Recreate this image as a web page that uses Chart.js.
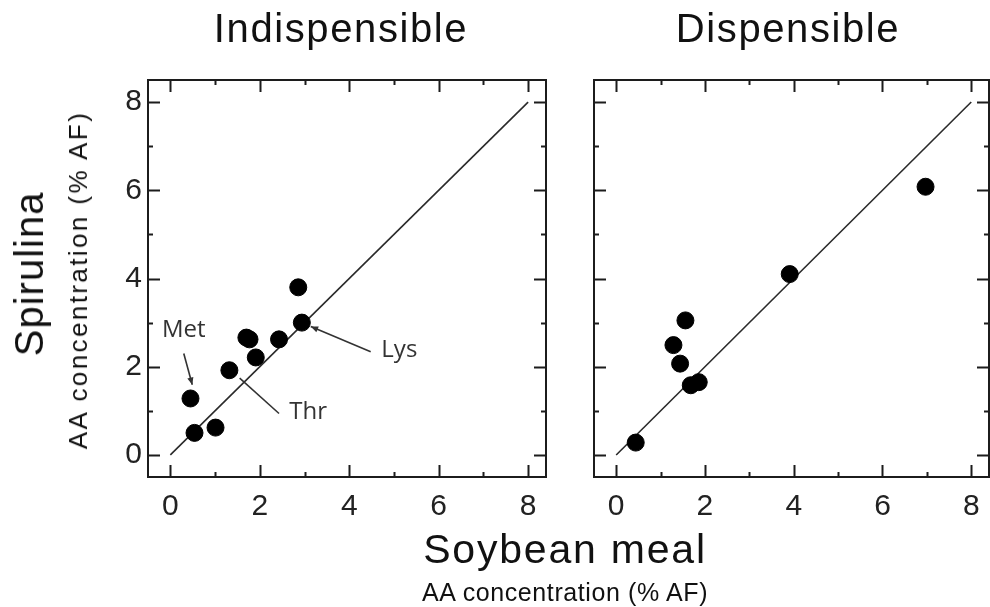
<!DOCTYPE html>
<html>
<head>
<meta charset="utf-8">
<title>Spirulina vs soybean meal amino acids</title>
<script src="https://cdn.jsdelivr.net/npm/chart.js@4.4.1/dist/chart.umd.min.js"></script>
<style>
  body { margin: 0; background: #fff; }
  #wrap { position: relative; width: 990px; height: 607px; overflow: hidden;
          font-family: "Liberation Sans", Arial, sans-serif; color: #111; }
  canvas { position: absolute; top: 0; }
  .lbl { position: absolute; white-space: nowrap; line-height: 1; }
  .h { transform: translate(-50%, -50%); }
  .v { transform: translate(-50%, -50%) rotate(-90deg); }
</style>
</head>
<body>
<div id="wrap">
  <canvas id="indisp" width="560" height="607" style="left:0;width:560px;height:607px"></canvas>
  <canvas id="disp" width="450" height="607" style="left:560px;width:450px;height:607px"></canvas>

  <div class="lbl h" style="left:341px;top:28px;font-size:40px;letter-spacing:1.6px">Indispensible</div>
  <div class="lbl h" style="left:788px;top:28px;font-size:40px;letter-spacing:1.6px">Dispensible</div>
  <div class="lbl v" style="left:29px;top:274px;font-size:40px;letter-spacing:1px">Spirulina</div>
  <div class="lbl v" style="left:78px;top:280px;font-size:26px;letter-spacing:2.4px">AA concentration (% AF)</div>
  <div class="lbl h" style="left:565px;top:549px;font-size:41px;letter-spacing:1.8px">Soybean meal</div>
  <div class="lbl h" style="left:565px;top:592px;font-size:25px;letter-spacing:0.6px">AA concentration (% AF)</div>
</div>
<script>
// axis ticks (labels every 2, marks every 1)
const xTicks = [0, 2, 4, 6, 8];
const yTicks = [0, 2, 4, 6, 8];
const tickMarks = [0, 1, 2, 3, 4, 5, 6, 7, 8];
const unityLine = [0, 8];

// indispensable amino acids, % as fed
const indispSoy = [0.45, 0.54, 1.01, 1.32, 1.70, 1.77, 1.91, 2.43, 2.86, 2.94];
const indispSpir = [1.28, 0.50, 0.62, 1.92, 2.66, 2.62, 2.21, 2.62, 3.80, 3.00];

// dispensable amino acids, % as fed
const dispSoy = [0.44, 1.29, 1.44, 1.56, 1.68, 1.86, 3.91, 6.97];
const dispSpir = [0.28, 2.49, 2.07, 3.05, 1.58, 1.65, 4.10, 6.08];

// callouts on the indispensable panel
const noteText = ['Met', 'Thr', 'Lys'];
const noteAt = [[0.30, 2.83], [3.08, 0.96], [5.12, 2.38]];
const noteFrom = [[0.30, 2.30], [2.43, 0.94], [4.48, 2.34]];
const noteTo = [[0.49, 1.59], [1.55, 1.74], [3.14, 2.91]];
const noteHead = [true, false, true];

const ink = '#1c1c1c';

// box around the plot area with inward tick marks on all four sides
const frameTicks = {
  id: 'frameTicks',
  afterDatasetsDraw(chart) {
    const { ctx, chartArea: a, scales } = chart;
    ctx.save();
    ctx.strokeStyle = ink;
    ctx.lineWidth = 2;
    ctx.strokeRect(a.left, a.top, a.right - a.left, a.bottom - a.top);
    ctx.beginPath();
    tickMarks.forEach(v => {
      const len = v % 2 === 0 ? 12 : 5;
      const px = Math.round(scales.x.getPixelForValue(v)) + 0.5;
      const py = Math.round(scales.y.getPixelForValue(v)) + 0.5;
      ctx.moveTo(px, a.top); ctx.lineTo(px, a.top + len);
      ctx.moveTo(px, a.bottom); ctx.lineTo(px, a.bottom - len);
      ctx.moveTo(a.left, py); ctx.lineTo(a.left + len, py);
      ctx.moveTo(a.right, py); ctx.lineTo(a.right - len, py);
    });
    ctx.stroke();
    ctx.restore();
  }
};

const callouts = {
  id: 'callouts',
  afterDatasetsDraw(chart) {
    const { ctx, scales: { x, y } } = chart;
    ctx.save();
    ctx.strokeStyle = '#333';
    ctx.fillStyle = '#333';
    ctx.lineWidth = 1.6;
    noteText.forEach((t, i) => {
      const x0 = x.getPixelForValue(noteFrom[i][0]), y0 = y.getPixelForValue(noteFrom[i][1]);
      const x1 = x.getPixelForValue(noteTo[i][0]), y1 = y.getPixelForValue(noteTo[i][1]);
      ctx.beginPath();
      ctx.moveTo(x0, y0);
      ctx.lineTo(x1, y1);
      ctx.stroke();
      if (noteHead[i]) {
        const ang = Math.atan2(y1 - y0, x1 - x0);
        ctx.beginPath();
        ctx.moveTo(x1, y1);
        ctx.lineTo(x1 - 8 * Math.cos(ang - 0.4), y1 - 8 * Math.sin(ang - 0.4));
        ctx.lineTo(x1 - 8 * Math.cos(ang + 0.4), y1 - 8 * Math.sin(ang + 0.4));
        ctx.closePath();
        ctx.fill();
      }
      ctx.font = '24px "Open Sans"';
      ctx.textAlign = 'center';
      ctx.textBaseline = 'middle';
      ctx.fillText(t, x.getPixelForValue(noteAt[i][0]), y.getPixelForValue(noteAt[i][1]));
    });
    ctx.restore();
  }
};

const tickFont = { family: '"Liberation Sans", Arial, sans-serif', size: 30 };

function makePanel(id, soy, spir, yWidth, padRight, showY, extra) {
  const points = soy.map((v, i) => ({ x: v, y: spir[i] }));
  return new Chart(document.getElementById(id), {
    type: 'scatter',
    data: {
      datasets: [
        { data: points, pointRadius: 8.5, pointHoverRadius: 8.5,
          backgroundColor: '#000', borderColor: '#000', borderWidth: 1, order: 1 },
        { type: 'line', data: unityLine.map(v => ({ x: v, y: v })),
          borderColor: '#2a2a2a', borderWidth: 1.6, pointRadius: 0, order: 2 }
      ]
    },
    options: {
      responsive: false,
      animation: false,
      layout: { padding: { left: 0, right: padRight, top: 80, bottom: 0 } },
      plugins: { legend: { display: false }, tooltip: { enabled: false } },
      scales: {
        x: {
          type: 'linear', min: -0.5, max: 8.4,
          afterBuildTicks: s => { s.ticks = xTicks.map(v => ({ value: v })); },
          afterFit: s => { s.height = 130; },
          grid: { display: false, drawTicks: false },
          border: { display: false },
          ticks: { padding: 12, autoSkip: false, maxRotation: 0, color: '#222', font: tickFont }
        },
        y: {
          type: 'linear', min: -0.5, max: 8.5,
          afterBuildTicks: s => { s.ticks = yTicks.map(v => ({ value: v })); },
          afterFit: s => { s.width = yWidth; },
          grid: { display: false, drawTicks: false },
          border: { display: false },
          ticks: { display: showY, padding: 6, autoSkip: false, color: '#222', font: tickFont }
        }
      }
    },
    plugins: [frameTicks].concat(extra)
  });
}

makePanel('indisp', indispSoy, indispSpir, 148, 14, true, [callouts]);
makePanel('disp', dispSoy, dispSpir, 34, 21, false, []);
</script>
</body>
</html>
